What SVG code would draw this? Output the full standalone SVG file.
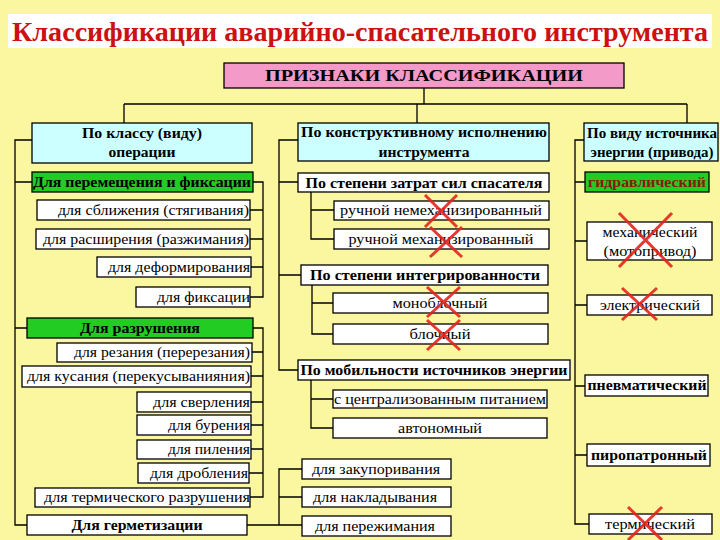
<svg xmlns="http://www.w3.org/2000/svg" width="720" height="540" viewBox="0 0 720 540" font-family="'Liberation Serif','DejaVu Serif','Noto Serif','Times New Roman',serif">
<style>
.bx{stroke:#000;stroke-width:1.3}
.w{fill:#fff}.c{fill:#CCFFFF}.g{fill:#22CC22}.p{fill:#F49AC8}
text{font-family:'Liberation Serif','DejaVu Serif','Noto Serif','Times New Roman',serif;font-size:15px;fill:#000}
.b{font-weight:bold}
.m{text-anchor:middle}.e{text-anchor:end}
#conn path{stroke:#000;stroke-width:1.3;fill:none}
.x{stroke:#E3231C;stroke-width:3;stroke-opacity:0.9}
</style>
<rect width="720" height="540" fill="#FBF7A1"/>
<g id="title">
<rect x="8" y="14" width="704" height="34" fill="#FFFFFF"/>
<text x="360" y="41" text-anchor="middle" style="fill:#CC1111;font-size:27px;font-weight:bold" textLength="696" lengthAdjust="spacingAndGlyphs">Классификации аварийно-спасательного инструмента</text>
</g>
<g id="conn">
<path d="M424,88V104M124,104H687M124,104V123M417,104V123M687,104V123"/>
<path d="M32,140H15V525H27M15,182H32M15,328H27"/>
<path d="M253,182H263V297H250M250,210H263M250,239H263M251,267H263"/>
<path d="M253,328H263V497H250M252,352H263M251,376H263M251,402H263M251,425H263M251,449H263M249,473H263"/>
<path d="M247,525H279V469H302M279,497H302M279,525H302"/>
<path d="M298,140H279V370H298M279,182H298M279,275H301"/>
<path d="M311,192V239H334M311,210H334"/>
<path d="M312,285V334H333M312,303H333"/>
<path d="M311,380V428H333M311,399H333"/>
<path d="M584,140H575V524H589M575,182H585M575,241H587M575,305H587M575,386H585M575,455H587"/>
</g>
<g id="n-header"><rect class="bx p" x="224" y="63" width="400" height="25"/><text class="b m" x="424" y="81" style="font-size:16px" textLength="318" lengthAdjust="spacingAndGlyphs">ПРИЗНАКИ КЛАССИФИКАЦИИ</text></g>
<g id="n-klass"><rect class="bx c" x="32" y="123" width="220" height="40"/><text class="b m" x="142" y="138" textLength="120" lengthAdjust="spacingAndGlyphs">По классу (виду)</text><text class="b m" x="142" y="157" textLength="67" lengthAdjust="spacingAndGlyphs">операции</text></g>
<g id="n-move"><rect class="bx g" x="32" y="172" width="221" height="20"/><text class="b" x="33" y="187" textLength="218" lengthAdjust="spacingAndGlyphs">Для перемещения и фиксации</text></g>
<g id="n-sbl"><rect class="bx w" x="37" y="200" width="213" height="20"/><text x="58" y="215" textLength="191" lengthAdjust="spacingAndGlyphs">для сближения (стягивания)</text></g>
<g id="n-rassh"><rect class="bx w" x="36" y="229" width="214" height="20"/><text x="43" y="244" textLength="206" lengthAdjust="spacingAndGlyphs">для расширения (разжимания)</text></g>
<g id="n-deform"><rect class="bx w" x="97" y="257" width="154" height="20"/><text x="108" y="272" textLength="142" lengthAdjust="spacingAndGlyphs">для деформирования</text></g>
<g id="n-fix"><rect class="bx w" x="136" y="287" width="114" height="20"/><text x="157" y="302" textLength="93" lengthAdjust="spacingAndGlyphs">для фиксации</text></g>
<g id="n-razr"><rect class="bx g" x="27" y="318" width="226" height="20"/><text class="b m" x="140" y="333" textLength="120" lengthAdjust="spacingAndGlyphs">Для разрушения</text></g>
<g id="n-rez"><rect class="bx w" x="57" y="343" width="195" height="19"/><text x="74" y="357" textLength="176" lengthAdjust="spacingAndGlyphs">для резания (перерезания)</text></g>
<g id="n-kus"><rect class="bx w" x="22" y="366" width="229" height="21"/><text x="27" y="381" textLength="223" lengthAdjust="spacingAndGlyphs">для кусания (перекусыванияния)</text></g>
<g id="n-sverl"><rect class="bx w" x="137" y="392" width="114" height="20"/><text x="153" y="407" textLength="97" lengthAdjust="spacingAndGlyphs">для сверления</text></g>
<g id="n-bur"><rect class="bx w" x="137" y="415" width="114" height="20"/><text x="168" y="430" textLength="82" lengthAdjust="spacingAndGlyphs">для бурения</text></g>
<g id="n-pil"><rect class="bx w" x="137" y="440" width="114" height="19"/><text x="168" y="454" textLength="82" lengthAdjust="spacingAndGlyphs">для пиления</text></g>
<g id="n-drob"><rect class="bx w" x="138" y="463" width="111" height="20"/><text x="150" y="478" textLength="98" lengthAdjust="spacingAndGlyphs">для дробления</text></g>
<g id="n-term-r"><rect class="bx w" x="35" y="488" width="215" height="19"/><text x="44" y="502" textLength="206" lengthAdjust="spacingAndGlyphs">для термического разрушения</text></g>
<g id="n-germ"><rect class="bx w" x="27" y="515" width="220" height="20"/><text class="b m" x="137" y="530" textLength="131" lengthAdjust="spacingAndGlyphs">Для герметизации</text></g>
<g id="n-konstr"><rect class="bx c" x="298" y="123" width="251" height="38"/><text class="b m" x="424" y="137" textLength="246" lengthAdjust="spacingAndGlyphs">По конструктивному исполнению</text><text class="b m" x="424" y="157" textLength="91" lengthAdjust="spacingAndGlyphs">инструмента</text></g>
<g id="n-zatr"><rect class="bx w" x="298" y="173" width="251" height="19"/><text class="b m" x="424" y="188" textLength="237" lengthAdjust="spacingAndGlyphs">По степени затрат сил спасателя</text></g>
<g id="n-nemeh"><rect class="bx w" x="334" y="201" width="215" height="19"/><text class="m" x="441" y="215" textLength="202" lengthAdjust="spacingAndGlyphs">ручной немеханизированный</text></g>
<g id="n-meh"><rect class="bx w" x="334" y="229" width="215" height="20"/><text class="m" x="441" y="244" textLength="185" lengthAdjust="spacingAndGlyphs">ручной механизированный</text></g>
<g id="n-integr"><rect class="bx w" x="301" y="265" width="247" height="20"/><text class="b m" x="425" y="280" textLength="230" lengthAdjust="spacingAndGlyphs">По степени интегрированности</text></g>
<g id="n-mono"><rect class="bx w" x="333" y="293" width="215" height="20"/><text class="m" x="440" y="308" textLength="95" lengthAdjust="spacingAndGlyphs">моноблочный</text></g>
<g id="n-blok"><rect class="bx w" x="333" y="324" width="215" height="20"/><text class="m" x="440" y="339" textLength="61" lengthAdjust="spacingAndGlyphs">блочный</text></g>
<g id="n-mob"><rect class="bx w" x="298" y="360" width="272" height="20"/><text class="b m" x="434" y="375" textLength="267" lengthAdjust="spacingAndGlyphs">По мобильности источников энергии</text></g>
<g id="n-centr"><rect class="bx w" x="333" y="390" width="214" height="18"/><text class="m" x="440" y="404" textLength="212" lengthAdjust="spacingAndGlyphs">с централизованным питанием</text></g>
<g id="n-avt"><rect class="bx w" x="333" y="418" width="214" height="20"/><text class="m" x="440" y="433" textLength="84" lengthAdjust="spacingAndGlyphs">автономный</text></g>
<g id="n-zak"><rect class="bx w" x="302" y="459" width="149" height="20"/><text class="m" x="376" y="474" textLength="128" lengthAdjust="spacingAndGlyphs">для закупоривания</text></g>
<g id="n-nakl"><rect class="bx w" x="302" y="487" width="149" height="20"/><text class="m" x="375" y="502" textLength="124" lengthAdjust="spacingAndGlyphs">для накладывания</text></g>
<g id="n-perezh"><rect class="bx w" x="302" y="516" width="149" height="20"/><text class="m" x="375" y="531" textLength="120" lengthAdjust="spacingAndGlyphs">для пережимания</text></g>
<g id="n-vid"><rect class="bx c" x="584" y="123" width="134" height="38"/><text class="b m" x="652" y="138" textLength="130" lengthAdjust="spacingAndGlyphs">По виду источника</text><text class="b m" x="652" y="157" textLength="123" lengthAdjust="spacingAndGlyphs">энергии (привода)</text></g>
<g id="n-gidr"><rect class="bx g" x="585" y="172" width="124" height="20"/><text class="b m" x="647" y="187" style="fill:#8B1A0A" textLength="118" lengthAdjust="spacingAndGlyphs">гидравлический</text></g>
<g id="n-mehan"><rect class="bx w" x="587" y="222" width="125" height="38"/><text class="m" x="650" y="237" textLength="95" lengthAdjust="spacingAndGlyphs">механический</text><text class="m" x="650" y="256" textLength="93" lengthAdjust="spacingAndGlyphs">(мотопривод)</text></g>
<g id="n-el"><rect class="bx w" x="587" y="295" width="125" height="20"/><text class="m" x="650" y="310" textLength="100" lengthAdjust="spacingAndGlyphs">электрический</text></g>
<g id="n-pnev"><rect class="bx w" x="585" y="375" width="123" height="21"/><text class="b m" x="647" y="390" textLength="119" lengthAdjust="spacingAndGlyphs">пневматический</text></g>
<g id="n-piro"><rect class="bx w" x="587" y="444" width="123" height="22"/><text class="b m" x="649" y="460" textLength="116" lengthAdjust="spacingAndGlyphs">пиропатронный</text></g>
<g id="n-term"><rect class="bx w" x="589" y="514" width="123" height="20"/><text class="m" x="650" y="529" textLength="90" lengthAdjust="spacingAndGlyphs">термический</text></g>
<g id="crosses">
<path class="x" d="M425,195L457,227M457,195L425,227"/>
<path class="x" d="M430,227L462,257M462,227L430,257"/>
<path class="x" d="M427,287L460,317M460,287L427,317"/>
<path class="x" d="M427,320L460,350M460,320L427,350"/>
<path class="x" d="M619,213L672,267M672,213L619,267"/>
<path class="x" d="M622,288L657,320M657,288L622,320"/>
<path class="x" d="M628,507L662,540M662,507L628,540"/>
</g>
</svg>
